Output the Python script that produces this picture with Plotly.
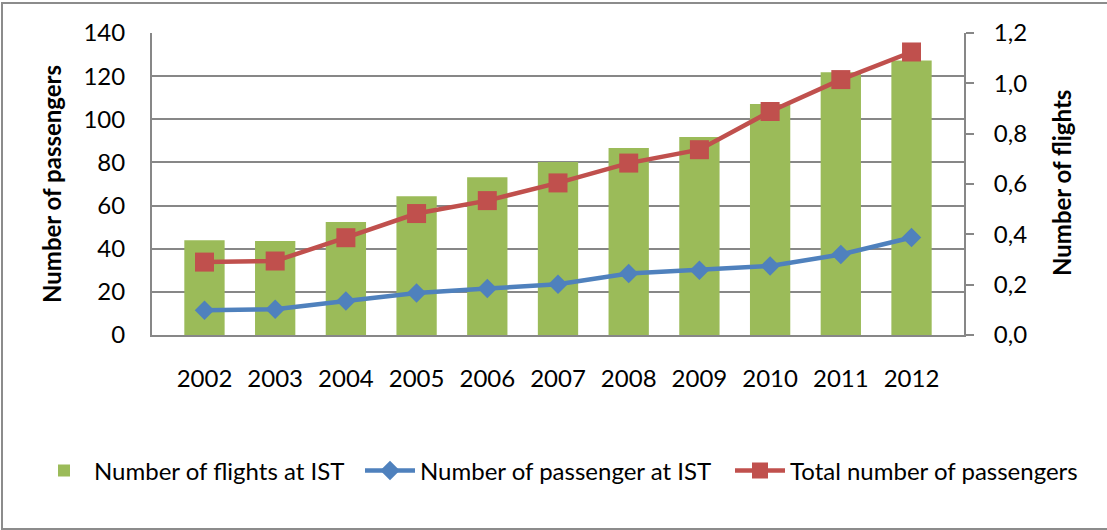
import plotly.graph_objects as go

years = ["2002", "2003", "2004", "2005", "2006", "2007", "2008", "2009", "2010", "2011", "2012"]
flights_ist = [0.376, 0.374, 0.449, 0.551, 0.627, 0.687, 0.743, 0.787, 0.918, 1.044, 1.091]
passengers_ist = [11.5, 11.9, 15.8, 19.5, 21.5, 23.5, 28.5, 30.0, 32.0, 37.3, 45.2]
total_passengers = [33.8, 34.3, 45.1, 56.3, 62.3, 70.5, 79.7, 85.9, 103.6, 118.4, 131.2]

left_ticks = [0, 20, 40, 60, 80, 100, 120, 140]
right_ticks = [0.0, 0.2, 0.4, 0.6, 0.8, 1.0, 1.2]

GREEN = "#9BBB59"
BLUE = "#4F81BD"
RED = "#C0504D"
GRID = "#878787"
FONT = "Lato"
FS = 24

fig = go.Figure()
fig.add_trace(go.Bar(
    x=years, y=flights_ist, name="Number of flights at IST",
    marker=dict(color=GREEN, line=dict(width=0)), xaxis="x", yaxis="y",
    legend="legend",
))
fig.add_trace(go.Scatter(
    x=years, y=passengers_ist, name="Number of passenger at IST",
    mode="lines+markers", line=dict(color=BLUE, width=4.5),
    marker=dict(symbol="diamond", size=15, color=BLUE), xaxis="x", yaxis="y2",
    legend="legend2",
))
fig.add_trace(go.Scatter(
    x=years, y=total_passengers, name="Total number of passengers",
    mode="lines+markers", line=dict(color=RED, width=4.5),
    marker=dict(symbol="square", size=19, color=RED), xaxis="x", yaxis="y2",
    legend="legend3",
))

W, H = 1107, 530
L, R, T, B = 152, 143, 33, 195
pw, ph = W - L - R, H - T - B

def px(xp):
    return (xp - L) / pw

def py(yp):
    return (H - B - yp) / ph

def leg(xstart):
    return dict(
        orientation="h", x=px(xstart), xanchor="left", y=py(471), yanchor="middle",
        font=dict(family=FONT, size=FS, color="black"),
        itemwidth=50, bgcolor="rgba(0,0,0,0)", borderwidth=0,
    )

fig.update_layout(
    width=W, height=H,
    margin=dict(l=L, r=R, t=T, b=B, autoexpand=False),
    paper_bgcolor="white", plot_bgcolor="white",
    separators=", ",
    font=dict(family=FONT, size=FS, color="black"),
    bargap=0.43,
    showlegend=True,
    legend=leg(34),
    legend2=leg(360),
    legend3=leg(730),
    xaxis=dict(
        type="category", categoryorder="array", categoryarray=years,
        showline=True, linecolor=GRID, linewidth=2, ticks="",
        showgrid=False, ticklabelstandoff=21, fixedrange=True,
        tickfont=dict(family=FONT, size=FS),
    ),
    yaxis=dict(
        side="right", range=[0, 1.2], tickvals=right_ticks, tickformat=".1f",
        showline=True, linecolor=GRID, linewidth=2,
        ticks="outside", ticklen=8, tickwidth=2, tickcolor=GRID,
        showgrid=False, zeroline=False, ticklabelstandoff=15,
        tickfont=dict(family=FONT, size=FS),
    ),
    yaxis2=dict(
        side="left", overlaying="y", range=[0, 140], tickvals=left_ticks,
        showline=True, linecolor=GRID, linewidth=2, ticks="",
        showgrid=True, gridcolor=GRID, gridwidth=2, zeroline=False,
        ticklabelstandoff=20, tickfont=dict(family=FONT, size=FS),
    ),
    annotations=[
        dict(text="<b>Number of passengers</b>", textangle=-90, xref="paper", yref="paper",
             x=px(51), y=py(184), xanchor="center", yanchor="middle", showarrow=False,
             font=dict(family=FONT, size=24, color="black")),
        dict(text="<b>Number of flights</b>", textangle=-90, xref="paper", yref="paper",
             x=px(1061), y=py(183), xanchor="center", yanchor="middle", showarrow=False,
             font=dict(family=FONT, size=24, color="black")),
    ],
    shapes=[
        dict(type="rect", xref="paper", yref="paper", x0=px(2), x1=px(1115), y0=py(529), y1=py(3),
             line=dict(color="#8c8c8c", width=2), fillcolor="rgba(0,0,0,0)", layer="below"),
    ],
)

fig.write_html("out.html")
